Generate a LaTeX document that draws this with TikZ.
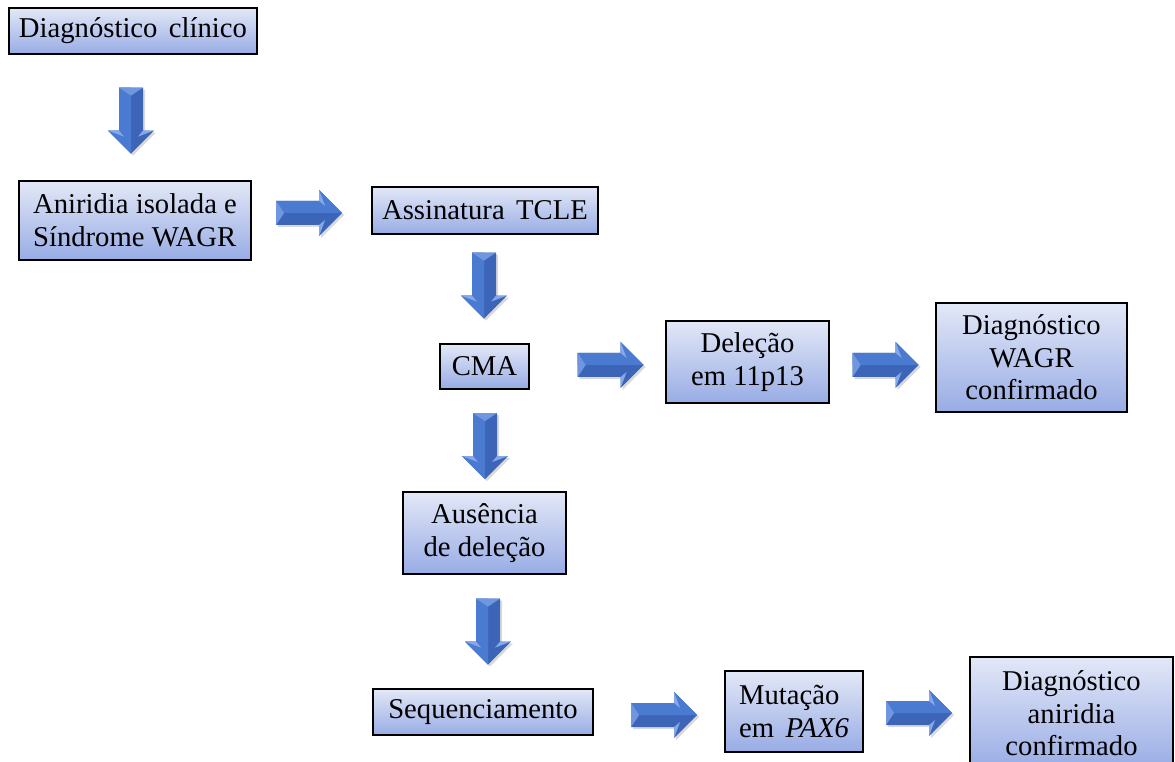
\documentclass[tikz,border=0pt]{standalone}
\usepackage{fontspec}
\setmainfont{Liberation Serif}
\usetikzlibrary{calc}

\definecolor{boxtop}{RGB}{227,232,247}
\definecolor{boxbot}{RGB}{152,172,229}
\definecolor{arrowdark}{RGB}{60,101,184}
\definecolor{arrowlight}{RGB}{75,123,208}
\definecolor{arrowbevel}{RGB}{112,150,224}
\definecolor{arrowtip}{RGB}{134,168,234}

\tikzset{
  flowbox/.style={draw=black, line width=0.9pt, top color=boxtop, bottom color=boxbot,
    inner sep=0pt, align=center, font=\fontsize{21.5}{24.5}\selectfont},
  % block arrow pointing right, centred on the pic origin
  rarrow/.pic={
    \fill [black, opacity=0.15] (-31,10) -- (12,10) -- (12,21) -- (35,-2) -- (12,-25) -- (12,-14) -- (-31,-14) -- cycle;
    \fill [arrowdark] (-33,12) -- (10,12) -- (10,23) -- (33,0) -- (10,-23) -- (10,-12) -- (-33,-12) -- cycle;
    \fill [arrowlight] (-33,12) -- (10,12) -- (10,23) -- (33,0) -- (-33,0) -- cycle;
    \fill [arrowbevel] (-33,12) -- (-25,0) -- (-33,-12) -- cycle;
    \fill [arrowtip] (10,23) -- (10,12) -- (16,7) -- cycle;
    \fill [arrowtip] (10,-23) -- (10,-12) -- (16,-7) -- cycle;
  },
  % block arrow pointing down
  darrow/.pic={
    \fill [black, opacity=0.15] (-10,31) -- (-10,-12) -- (-21,-12) -- (2,-35) -- (25,-12) -- (14,-12) -- (14,31) -- cycle;
    \fill [arrowdark] (-12,33) -- (-12,-10) -- (-23,-10) -- (0,-33) -- (23,-10) -- (12,-10) -- (12,33) -- cycle;
    \fill [arrowlight] (-12,33) -- (-12,-10) -- (-23,-10) -- (0,-33) -- (0,33) -- cycle;
    \fill [arrowbevel] (-12,33) -- (0,25) -- (12,33) -- cycle;
    \fill [arrowtip] (-23,-10) -- (-12,-10) -- (-7,-16) -- cycle;
    \fill [arrowtip] (23,-10) -- (12,-10) -- (7,-16) -- cycle;
  }
}

\begin{document}
\begin{tikzpicture}[x=0.75pt,y=0.75pt,yscale=-1,xscale=1]
\useasboundingbox (0,0) rectangle (1175,762);

%Shape: Rectangle
\draw (133,31) node [flowbox, minimum width=186pt, minimum height=34.5pt] (dx) {Diagnóstico\hspace{0.4em}clínico};
%Shape: Rectangle
\draw (135,220.5) node [flowbox, align=left, minimum width=174pt, minimum height=59.25pt] (aniso) {Aniridia isolada e\\Síndrome WAGR};
%Shape: Rectangle
\draw (485,210.5) node [flowbox, minimum width=169.5pt, minimum height=35.25pt] (tcle) {Assinatura\hspace{0.4em}TCLE};
%Shape: Rectangle
\draw (484.5,366.5) node [flowbox, minimum width=66.75pt, minimum height=33.75pt] (cma) {CMA};
%Shape: Rectangle
\draw (747.5,362) node [flowbox, minimum width=122.25pt, minimum height=61.5pt] (delecao) {Deleção\\em 11p13};
%Shape: Rectangle
\draw (1031.5,357.5) node [flowbox, minimum width=143.25pt, minimum height=81.75pt] (dxwagr) {Diagnóstico\\WAGR\\confirmado};
%Shape: Rectangle
\draw (484.5,533) node [flowbox, minimum width=122.25pt, minimum height=61.5pt] (ausencia) {Ausência\\de deleção};
%Shape: Rectangle
\draw (483,712) node [flowbox, minimum width=165pt, minimum height=34.5pt] (seq) {Sequenciamento};
%Shape: Rectangle
\draw (794,711.5) node [flowbox, align=left, minimum width=103.5pt, minimum height=60.75pt] (pax6) {Mutação\\em\hspace{0.4em}\textit{PAX6}};
%Shape: Rectangle
\draw (1071.5,713.5) node [flowbox, minimum width=152.25pt, minimum height=84.75pt] (dxani) {Diagnóstico\\aniridia\\confirmado};

%Block Arrows
\pic at ($(dx.south)+(-2,66)$) {darrow};
\pic at ($(aniso.east)+(57.5,-7.5)$) {rarrow};
\pic at ($(tcle.south)+(-1,51)$) {darrow};
\pic at ($(cma.east)+(81,-1.5)$) {rarrow};
\pic at ($(delecao.east)+(56,3)$) {rarrow};
\pic at ($(cma.south)+(0.5,56.5)$) {darrow};
\pic at ($(ausencia.south)+(3.5,57)$) {darrow};
\pic at ($(seq.east)+(70.5,3)$) {rarrow};
\pic at ($(pax6.east)+(55.5,1.5)$) {rarrow};

\end{tikzpicture}
\end{document}
